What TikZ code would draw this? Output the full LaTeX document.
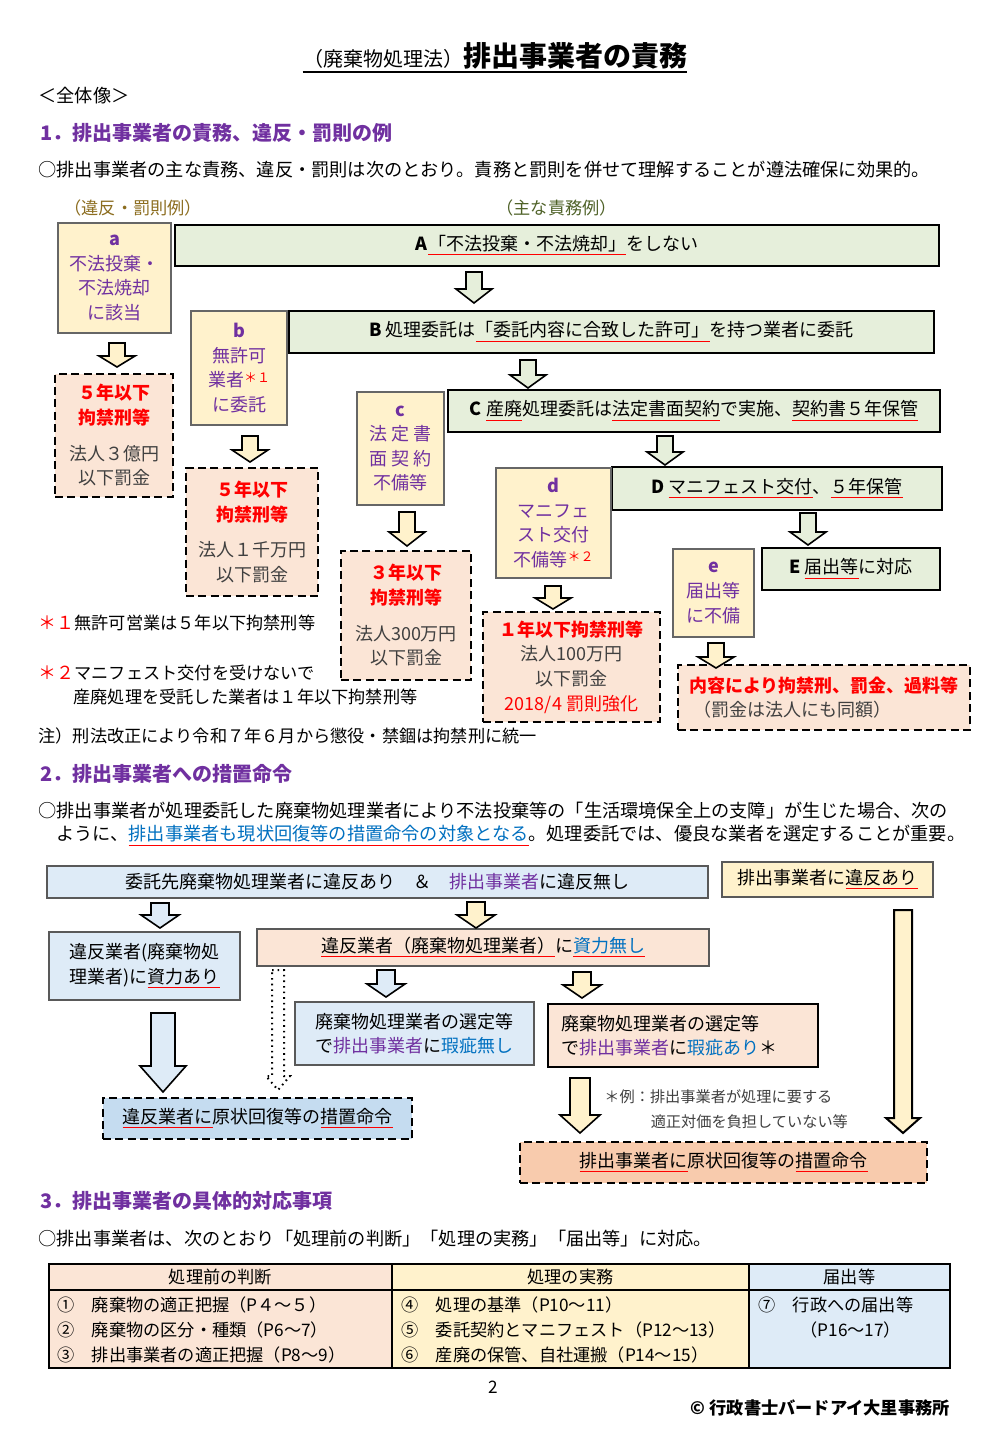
\documentclass[tikz,border=0pt]{standalone}
\usepackage{fontspec}
\setmainfont{Noto Sans CJK JP}
\definecolor{vio}{HTML}{7030A0}
\definecolor{blu}{HTML}{0070C0}
\definecolor{txtgray}{HTML}{404040}
\definecolor{yfill}{HTML}{FFF2CC}
\definecolor{gfill}{HTML}{E6EFDB}
\definecolor{pfill}{HTML}{FBE5D6}
\definecolor{bfill}{HTML}{DEEBF7}
\definecolor{bdark}{HTML}{C5DCF0}
\definecolor{pdark}{HTML}{F8CBAD}
\definecolor{gold}{HTML}{8C6D1F}
\definecolor{olive}{HTML}{4F6228}
\newcommand\fsn{\fontsize{9pt}{12.3pt}\selectfont}
\newcommand\fsb{\fontsize{9.1pt}{12pt}\selectfont}
\newcommand\fsh{\fontsize{10pt}{12pt}\selectfont\bfseries}
\newcommand\fst{\fontsize{8.6pt}{12pt}\selectfont}
\newcommand\rul[1]{\colorlet{ulsave}{.}\textcolor{red}{\underline{\textcolor{ulsave}{#1}}}}
\newcommand\sst[1]{\textcolor{red}{\raisebox{.45ex}{\fontsize{6.5pt}{7pt}\selectfont #1}}}
\newcommand\gap{\rule{0pt}{16pt}}
% block arrow: [style] x, top, bottom, shaft half, head half, head length, fill
\newcommand\darr[8][]{\filldraw[fill=#8, draw=black, line width=0.8pt, #1]
  (#2-#5,#3) -- (#2+#5,#3) -- (#2+#5,#4-#7) -- (#2+#6,#4-#7) -- (#2,#4)
  -- (#2-#6,#4-#7) -- (#2-#5,#4-#7) -- cycle;}
\begin{document}
\begin{tikzpicture}[x=0.5pt, y=-0.5pt,
  every node/.style={inner sep=0pt},
  sz/.style 2 args={minimum width=#1*0.5pt, minimum height=#2*0.5pt},
  txt/.style={anchor=west, font=\fsb},
  ybox/.style={fill=yfill, draw=gray!80!black, line width=0.6pt, text=vio, align=center, font=\fsn},
  gbox/.style={fill=gfill, draw=black, line width=1.4pt, font=\fsn},
  pbox/.style={fill=pfill, draw=black, line width=1.3pt, dash pattern=on 4pt off 2.2pt, align=center, font=\fsn},
  bbox/.style={fill=bfill, draw=gray!70!black, line width=0.6pt, font=\fsn},
  cell/.style={draw=black, line width=0.6pt, font=\fst}]
\useasboundingbox[fill=white] (0,0) rectangle (990,1440);

% title
\node[anchor=base] (title) at (495,66) {{\fontsize{10pt}{12pt}\selectfont （廃棄物処理法）}{\fontsize{14pt}{16pt}\selectfont\bfseries 排出事業者の責務}};
\draw[line width=0.9pt] ([yshift=-1.5pt]title.south west) -- ([yshift=-1.5pt]title.south east);
\node[txt] (whole) at (38,96) {＜全体像＞};

% section 1
\node[txt, font=\fsh, text=vio] (sec1) at (40,133) {1．排出事業者の責務、違反・罰則の例};
\node[txt] (intro1) at (38,170) {○排出事業者の主な責務、違反・罰則は次のとおり。責務と罰則を併せて理解することが遵法確保に効果的。};
\node[txt, text=gold, font=\fst] (hdpen) at (64,208) {（違反・罰則例）};
\node[txt, text=olive, font=\fst] (hdduty) at (496,208) {（主な責務例）};

\node[gbox, sz={764}{41}] (A) at (557,245.5) {\textbf{A}\rul{「不法投棄・不法焼却」}をしない};
\node[gbox, sz={645}{42}] (B) at (611.5,332) {\textbf{B}\ 処理委託は\rul{「委託内容に合致した許可」}を持つ業者に委託};
\node[gbox, sz={492}{42}] (C) at (694,411) {\textbf{C}\ \rul{産廃}処理委託は\rul{法定書面契約}で実施、\rul{契約書５年保管}};
\node[gbox, sz={330}{43}] (D) at (777,488.5) {\textbf{D}\ \rul{マニフェスト交付}、\rul{５年保管}};
\node[gbox, sz={178}{42}] (E) at (851,569) {\textbf{E}\ \rul{届出等}に対応};

\node[ybox, sz={113}{110}] (a) at (114.5,278) {\textbf{a}\\不法投棄・\\不法焼却\\に該当};
\node[ybox, sz={96}{114}] (b) at (239,368) {\textbf{b}\\無許可\\業者\sst{＊１}\\に委託};
\node[ybox, sz={87}{113}] (c) at (400.5,448.5) {\textbf{c}\\法 定 書\\面 契 約\\不備等};
\node[ybox, sz={115}{110}] (d) at (553.5,523) {\textbf{d}\\マニフェ\\スト交付\\不備等\sst{＊２}};
\node[ybox, sz={81}{88}] (e) at (713.5,593) {\textbf{e}\\届出等\\に不備};

\node[pbox, sz={118}{123}] (pa) at (114,435.5) {\textcolor{red}{\bfseries ５年以下}\\\textcolor{red}{\bfseries 拘禁刑等}\\\gap\textcolor{txtgray}{法人３億円}\\\textcolor{txtgray}{以下罰金}};
\node[pbox, sz={132}{128}] (pb) at (252,532) {\textcolor{red}{\bfseries ５年以下}\\\textcolor{red}{\bfseries 拘禁刑等}\\\gap\textcolor{txtgray}{法人１千万円}\\\textcolor{txtgray}{以下罰金}};
\node[pbox, sz={130}{129}] (pc) at (406,615.5) {\textcolor{red}{\bfseries ３年以下}\\\textcolor{red}{\bfseries 拘禁刑等}\\\gap\textcolor{txtgray}{法人300万円}\\\textcolor{txtgray}{以下罰金}};
\node[pbox, sz={177}{110}] (pd) at (571.5,667) {\textcolor{red}{\bfseries １年以下拘禁刑等}\\\textcolor{txtgray}{法人100万円}\\\textcolor{txtgray}{以下罰金}\\\textcolor{red}{2018/4 罰則強化}};
\node[pbox, sz={292}{65}, align=left] (pe) at (824,697.5) {\textcolor{red}{\bfseries 内容により拘禁刑、罰金、過料等}\\\textcolor{txtgray}{\ （罰金は法人にも同額）}};

\darr{474}{272}{303}{8}{18}{14}{gfill}
\darr{528}{360}{388}{8}{18}{13}{gfill}
\darr{665}{436}{465}{8}{18}{13}{gfill}
\darr{808}{513}{545}{8}{18}{13}{gfill}
\darr{117}{343}{367}{8}{18}{11}{yfill}
\darr{250}{436}{462}{8}{18}{12}{yfill}
\darr{407}{512}{546}{8}{18}{14}{yfill}
\darr{553}{586}{609}{8}{18}{11}{yfill}
\darr{716}{643}{668}{8}{18}{11}{yfill}

\node[txt, font=\fst] (fn1) at (38,623) {\textcolor{red}{\fsn＊１}無許可営業は５年以下拘禁刑等};
\node[txt, font=\fst] (fn2) at (38,673) {\textcolor{red}{\fsn＊２}マニフェスト交付を受けないで};
\node[txt, font=\fst] (fn2b) at (73,697) {産廃処理を受託した業者は１年以下拘禁刑等};
\node[txt, font=\fst] (note) at (38,736) {注）刑法改正により令和７年６月から懲役・禁錮は拘禁刑に統一};

% section 2
\node[txt, font=\fsh, text=vio] (sec2) at (40,774) {2．排出事業者への措置命令};
\node[txt] (intro2) at (38,811) {○排出事業者が処理委託した廃棄物処理業者により不法投棄等の「生活環境保全上の支障」が生じた場合、次の};
\node[txt] (intro2b) at (56,836) {ように、\textcolor{blu}{\rul{排出事業者も現状回復等の措置命令の対象となる}}。処理委託では、優良な業者を選定することが重要。};

\node[bbox, sz={661}{32}] (viol) at (377.5,882) {委託先廃棄物処理業者に違反あり　＆　\textcolor{vio}{排出事業者}に違反無し};
\node[bbox, fill=yfill, sz={211}{35}] (emviol) at (827.5,879.5) {排出事業者に\rul{違反あり}};
\node[bbox, sz={191}{68}, align=left] (rich) at (144.5,966) {違反業者(廃棄物処\\理業者)に\rul{資力あり}};
\node[bbox, fill=pfill, sz={452}{37}] (poor) at (483,947.5) {\rul{違反業者（廃棄物処理業者）}に\textcolor{blu}{\rul{資力無し}}};
\node[bbox, sz={239}{63}, align=left] (nofault) at (414.5,1033.5) {廃棄物処理業者の選定等\\で\textcolor{vio}{排出事業者}に\textcolor{blu}{瑕疵無し}};
\node[bbox, fill=pfill, draw=black, line width=1.2pt, sz={270}{63}, align=left] (fault) at (683,1035.5) {廃棄物処理業者の選定等\\で\textcolor{vio}{排出事業者}に\textcolor{blu}{瑕疵あり}＊\hspace*{14pt}};
\node[pbox, fill=bdark, sz={309}{41}] (ordv) at (257.5,1118.5) {\rul{違反業者に}原状回復等の\rul{措置命令}};
\node[pbox, fill=pdark, sz={407}{41}] (orde) at (723.5,1162.5) {\rul{排出事業者に}原状回復等の\rul{措置命令}};
\node[anchor=west, font=\fontsize{7.6pt}{12.4pt}\selectfont, text=txtgray, align=left] (ex) at (604,1109) {＊例：排出事業者が処理に要する\\\hspace*{3.05em}適正対価を負担していない等};

\darr{160}{903}{928}{9}{19}{13}{bfill}
\darr{476}{902}{928}{9}{19}{13}{yfill}
\darr{386}{970}{997}{9}{19}{13}{bfill}
\darr{582}{972}{998}{9}{19}{13}{yfill}
\darr{163}{1013}{1092}{12}{23}{26}{bfill}
\darr[dotted, line width=1pt]{278}{970}{1090}{6}{12}{14}{white}
\darr{580}{1078}{1133}{10}{20}{18}{yfill}
\darr[line width=1pt]{903}{910}{1133}{9}{17}{15}{yfill}

% section 3
\node[txt, font=\fsh, text=vio] (sec3) at (40,1201) {3．排出事業者の具体的対応事項};
\node[txt] (intro3) at (38,1239) {○排出事業者は、次のとおり「処理前の判断」「処理の実務」「届出等」に対応。};

\node[cell, fill=pfill, sz={343}{26}] (h1) at (220.5,1277) {処理前の判断};
\node[cell, fill=yfill, sz={357}{26}] (h2) at (570.5,1277) {処理の実務};
\node[cell, fill=bfill, sz={201}{26}] (h3) at (849.5,1277) {届出等};
\node[cell, fill=pfill, sz={343}{78}] (c1) at (220.5,1329) {};
\node[cell, fill=yfill, sz={357}{78}] (c2) at (570.5,1329) {};
\node[cell, fill=bfill, sz={201}{78}] (c3) at (849.5,1329) {};
\node[txt, font=\fst] (i1) at (57,1305) {①　廃棄物の適正把握（P４～５）};
\node[txt, font=\fst] (i2) at (57,1330) {②　廃棄物の区分・種類（P6～7）};
\node[txt, font=\fst] (i3) at (57,1355) {③　排出事業者の適正把握（P8～9）};
\node[txt, font=\fst] (i4) at (401,1305) {④　処理の基準（P10～11）};
\node[txt, font=\fst] (i5) at (401,1330) {⑤　委託契約とマニフェスト（P12～13）};
\node[txt, font=\fst] (i6) at (401,1355) {⑥　産廃の保管、自社運搬（P14～15）};
\node[txt, font=\fst] (i7) at (758,1305) {⑦　行政への届出等};
\node[txt, font=\fst] (i7b) at (800,1330) {（P16～17）};

\node[font=\fst] (page) at (493,1387) {2};
\node[anchor=east, font=\fst\bfseries] (copy) at (950,1408) {© 行政書士バードアイ大里事務所};
\end{tikzpicture}
\end{document}
